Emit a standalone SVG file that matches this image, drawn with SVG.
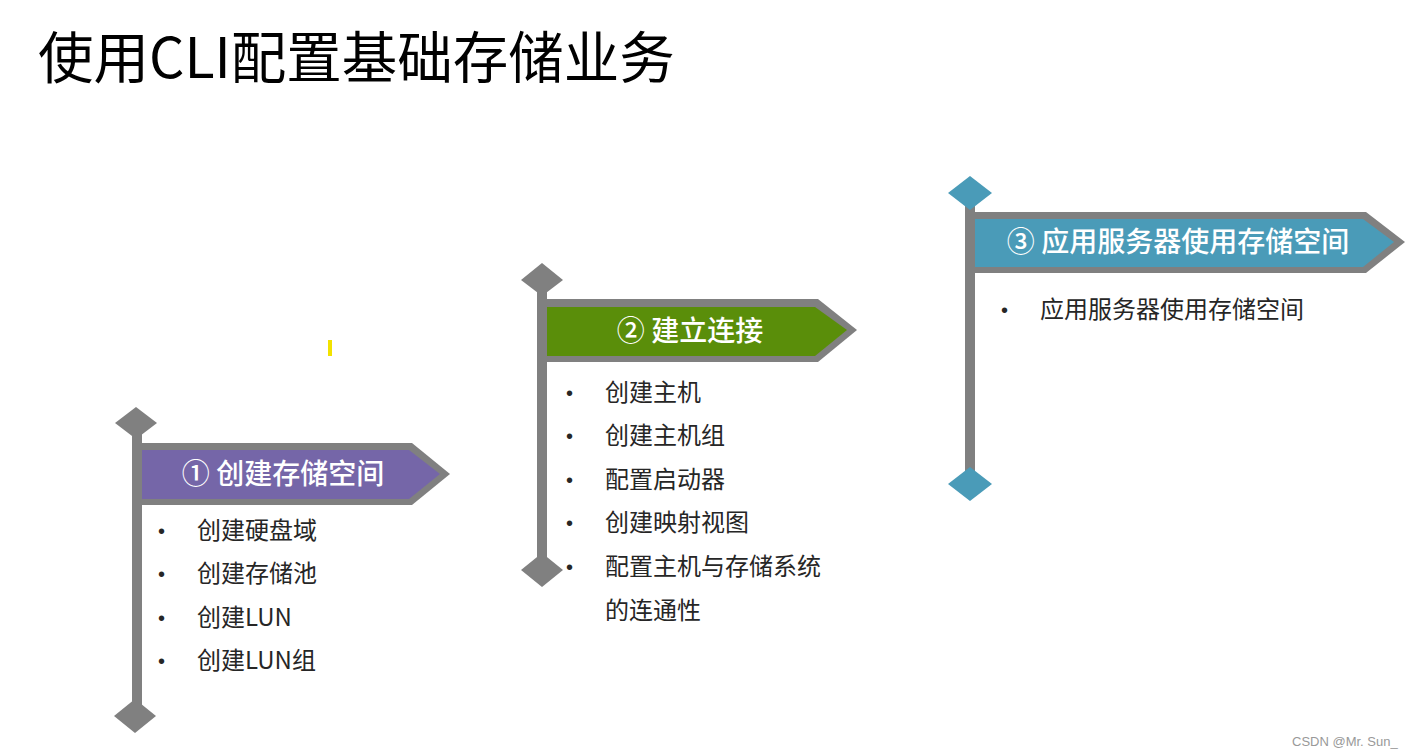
<svg xmlns="http://www.w3.org/2000/svg" width="1413" height="756" viewBox="0 0 1413 756">
<style>
.pole{fill:#808080}
.dg{fill:#808080}
.body{font-family:"Noto Sans CJK SC","Liberation Sans",sans-serif;font-size:24px;fill:#262626}
.bul{font-family:"Liberation Sans",sans-serif;font-size:20px;fill:#262626}
.ban{font-family:"Noto Sans CJK SC","Liberation Sans",sans-serif;font-size:28px;font-weight:500;fill:#ffffff;text-anchor:middle}
</style>
<rect width="1413" height="756" fill="#ffffff"/>
<text x="38" y="78" font-family="Noto Sans CJK SC, sans-serif" font-size="55.5" fill="#000">使用CLI配置基础存储业务</text>
<rect x="328" y="340" width="4" height="16" fill="#f2e200"/>

<g id="flag1">
<rect class="pole" x="132" y="423" width="10" height="293"/>
<polygon class="dg" points="136,407 157,423 136,439 115,423"/>
<polygon class="dg" points="135,699 156,716 135,733 114,716"/>
<polygon fill="#808080" points="132,443 412,443 450,474 412,505 132,505"/>
<polygon fill="#7566a8" points="142,450 409,450 440,474 409,499 142,499"/>
<text class="ban" x="283" y="484">① 创建存储空间</text>
<text class="bul" x="158" y="538">•</text>
<text class="bul" x="158" y="581">•</text>
<text class="bul" x="158" y="625">•</text>
<text class="bul" x="158" y="668">•</text>
<text class="body" x="197" y="539">创建硬盘域</text>
<text class="body" x="197" y="582">创建存储池</text>
<text class="body" x="197" y="626">创建LUN</text>
<text class="body" x="197" y="669">创建LUN组</text>
</g>

<g id="flag2">
<rect class="pole" x="537" y="280" width="10" height="290"/>
<polygon class="dg" points="542,263 563,280 542,296 521,280"/>
<polygon class="dg" points="542,553 563,570 542,587 521,570"/>
<polygon fill="#808080" points="537,299 818,299 857,330 818,362 537,362"/>
<polygon fill="#5a8e0a" points="547,307 815,307 847,330 815,356 547,356"/>
<text class="ban" x="690" y="341">② 建立连接</text>
<text class="bul" x="566" y="400">•</text>
<text class="bul" x="566" y="443">•</text>
<text class="bul" x="566" y="487">•</text>
<text class="bul" x="566" y="530">•</text>
<text class="bul" x="566" y="574">•</text>
<text class="body" x="605" y="401">创建主机</text>
<text class="body" x="605" y="444">创建主机组</text>
<text class="body" x="605" y="488">配置启动器</text>
<text class="body" x="605" y="531">创建映射视图</text>
<text class="body" x="605" y="575">配置主机与存储系统</text>
<text class="body" x="605" y="619">的连通性</text>
</g>

<g id="flag3">
<rect class="pole" x="965" y="193" width="10" height="291"/>
<polygon fill="#4a9bb8" points="970,176 992,193 970,210 948,193"/>
<polygon fill="#4a9bb8" points="970,467 992,484 970,501 948,484"/>
<polygon fill="#808080" points="965,212 1366,212 1405,242 1366,273 965,273"/>
<polygon fill="#4a9bb8" points="975,219 1363,219 1394,242 1363,267 975,267"/>
<text class="ban" x="1178" y="252">③ 应用服务器使用存储空间</text>
<text class="bul" x="1001" y="317">•</text>
<text class="body" x="1040" y="318">应用服务器使用存储空间</text>
</g>

<text x="1292" y="746" font-family="Liberation Sans, sans-serif" font-size="13" fill="#999">CSDN @Mr. Sun_</text>
</svg>
